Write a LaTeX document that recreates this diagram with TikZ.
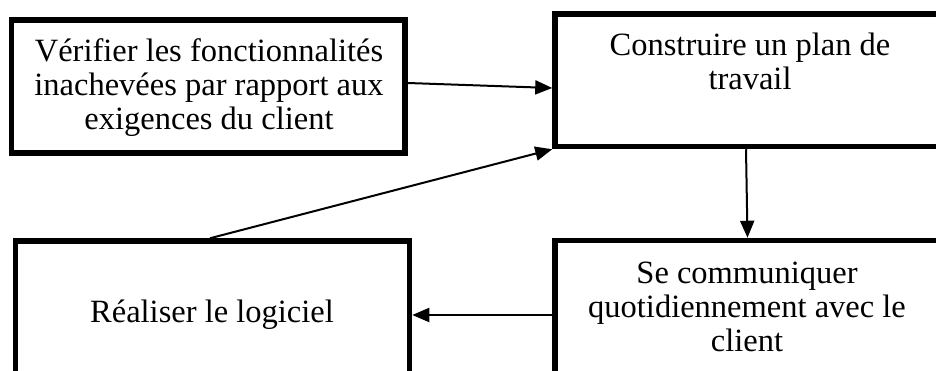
\documentclass[tikz,border=0pt]{standalone}
\usepackage{fontspec}
\setmainfont{Liberation Serif}
\usetikzlibrary{arrows.meta}
\begin{document}
\begin{tikzpicture}[x=1pt,y=-1pt,
  stepbox/.style={draw=black,line width=5.5pt,inner sep=0pt,fill=none},
  steptext/.style={anchor=base,inner sep=0pt,font=\fontsize{32.5}{34}\selectfont},
  flow/.style={draw=black,line width=2pt,-{Triangle[length=17pt,width=14pt]}}]
\useasboundingbox (0,0) rectangle (936,371);
\clip (0,0) rectangle (936,371);
% process boxes
\node[stepbox,minimum width=393.5pt,minimum height=133pt] (b1) at (208.25,86.5) {};
\node[stepbox,minimum width=390pt,minimum height=132.5pt] (b2) at (750,80.25) {};
\node[stepbox,minimum width=394pt,minimum height=134pt] (b3) at (212.5,308) {};
\node[stepbox,minimum width=385pt,minimum height=133.5pt] (b4) at (747.5,307.25) {};
% box labels
\node[steptext] (t1) at (209,62) {\begin{tabular}[t]{@{}c@{}}Vérifier les fonctionnalités\\inachevées par rapport aux\\exigences du client\end{tabular}};
\node[steptext] (t2) at (750,56) {\begin{tabular}[t]{@{}c@{}}Construire un plan de\\travail\end{tabular}};
\node[steptext] (t3) at (212,322) {Réaliser le logiciel};
\node[steptext] (t4) at (747,283) {\begin{tabular}[t]{@{}c@{}}Se communiquer\\quotidiennement avec le\\client\end{tabular}};
% connectors
\draw[flow] ([yshift=3.5pt]b1.east) -- ([yshift=-7.75pt]b2.west);
\draw[flow] ([xshift=-4pt]b2.south) -- (b4.north);
\draw[flow] ([yshift=-7.75pt]b4.west) -- ([yshift=-7pt]b3.east);
\draw[flow] ([xshift=-2.5pt]b3.north) -- (b2.south west);
\end{tikzpicture}
\end{document}
